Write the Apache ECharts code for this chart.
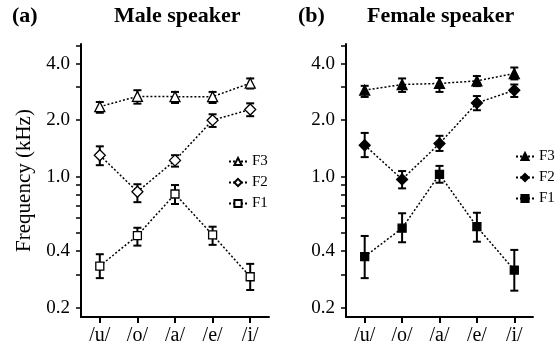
<!DOCTYPE html>
<html>
<head>
<meta charset="utf-8">
<script src="https://cdn.jsdelivr.net/npm/echarts@6/dist/echarts.min.js"></script>
<style>
  html, body { margin: 0; padding: 0; background: #fff; }
  #main { width: 555px; height: 348px; }
</style>
</head>
<body>
<div id="main"></div>
<script>
// vowels on the x axis
const vowels = ['/u/', '/o/', '/a/', '/e/', '/i/'];

// y axis ticks (kHz)
const yLabels = [0.2, 0.4, 1.0, 2.0, 4.0];
const yTicks = [0.2, 0.3, 0.4, 0.5, 0.6, 0.7, 0.8, 0.9, 1.0, 2.0, 3.0, 4.0, 5.0];

// male speaker, mean and error bar ends
const maleF3 = [2.36, 2.68, 2.67, 2.67, 3.15];
const maleF3Low = [2.19, 2.45, 2.47, 2.47, 2.95];
const maleF3High = [2.50, 2.89, 2.83, 2.83, 3.34];
const maleF2 = [1.30, 0.83, 1.22, 2.0, 2.28];
const maleF2Low = [1.15, 0.73, 1.13, 1.84, 2.10];
const maleF2High = [1.45, 0.91, 1.30, 2.15, 2.46];
const maleF1 = [0.333, 0.484, 0.807, 0.488, 0.292];
const maleF1Low = [0.287, 0.428, 0.714, 0.432, 0.248];
const maleF1High = [0.385, 0.533, 0.901, 0.540, 0.342];

// female speaker
const femaleF3 = [2.89, 3.10, 3.14, 3.24, 3.55];
const femaleF3Low = [2.66, 2.83, 2.83, 3.04, 3.30];
const femaleF3High = [3.05, 3.34, 3.36, 3.44, 3.82];
const femaleF2 = [1.47, 0.966, 1.50, 2.47, 2.89];
const femaleF2Low = [1.27, 0.865, 1.37, 2.26, 2.66];
const femaleF2High = [1.71, 1.07, 1.65, 2.69, 3.10];
const femaleF1 = [0.374, 0.53, 1.027, 0.54, 0.317];
const femaleF1Low = [0.287, 0.446, 0.927, 0.449, 0.246];
const femaleF1High = [0.482, 0.637, 1.14, 0.641, 0.406];

const serif = 'Liberation Serif';

function errBars (low, high) {
  return vowels.map((v, i) => [i, low[i], high[i]]);
}

function renderErr (params, api) {
  const x = api.value(0);
  const lo = api.coord([x, api.value(1)]);
  const hi = api.coord([x, api.value(2)]);
  const w = 4;
  const style = { stroke: '#000', lineWidth: 2 };
  return {
    type: 'group',
    children: [
      { type: 'line', shape: { x1: lo[0], y1: lo[1], x2: hi[0], y2: hi[1] }, style: style },
      { type: 'line', shape: { x1: lo[0] - w, y1: lo[1], x2: lo[0] + w, y2: lo[1] }, style: style },
      { type: 'line', shape: { x1: hi[0] - w, y1: hi[1], x2: hi[0] + w, y2: hi[1] }, style: style }
    ]
  };
}

function lineSeries (name, idx, data, symbol, size, filled) {
  return {
    name: name,
    type: 'line',
    xAxisIndex: idx,
    yAxisIndex: idx,
    data: data,
    symbol: symbol,
    symbolSize: size,
    z: 3,
    lineStyle: { color: '#000', width: 1.5, type: [2, 2] },
    itemStyle: { color: filled ? '#000' : '#fff', borderColor: '#000', borderWidth: 1.3 },
    emphasis: { disabled: true }
  };
}

function errSeries (idx, low, high) {
  return {
    type: 'custom',
    xAxisIndex: idx,
    yAxisIndex: idx,
    z: 2,
    silent: true,
    encode: { x: 0, y: [1, 2] },
    renderItem: renderErr,
    data: errBars(low, high)
  };
}

function xAxis (idx) {
  return {
    type: 'category',
    gridIndex: idx,
    data: vowels,
    axisLine: { lineStyle: { color: '#000', width: 2 } },
    axisTick: { show: true, alignWithLabel: true, length: 6, lineStyle: { color: '#000', width: 2 } },
    axisLabel: { color: '#000', fontFamily: serif, fontSize: 20, margin: 9 }
  };
}

function yAxis (idx, name) {
  return {
    type: 'log',
    logBase: 10,
    gridIndex: idx,
    min: 0.178,
    max: 5.1,
    name: name,
    nameLocation: 'middle',
    nameGap: 46,
    nameTextStyle: { color: '#000', fontFamily: serif, fontSize: 21 },
    splitLine: { show: false },
    axisLine: { show: true, lineStyle: { color: '#000', width: 2 } },
    axisTick: { show: true, customValues: yTicks, length: 5, lineStyle: { color: '#000', width: 1.5 } },
    minorTick: { show: false },
    axisLabel: {
      customValues: yLabels,
      color: '#000',
      fontFamily: serif,
      fontSize: 19,
      margin: 11,
      formatter: v => Number(v).toFixed(1)
    }
  };
}

function legend (left, top, names) {
  return {
    orient: 'vertical',
    left: left,
    top: top,
    padding: 0,
    itemGap: 6,
    itemWidth: 18,
    itemHeight: 9,
    data: names,
    formatter: name => name.split(' ')[0],
    textStyle: { color: '#000', fontFamily: serif, fontSize: 15 }
  };
}

const chart = echarts.init(document.getElementById('main'));
chart.setOption({
  animation: false,
  backgroundColor: '#fff',
  title: [
    { text: '(a)', left: 12, top: 5, padding: 0, textStyle: { fontFamily: serif, fontSize: 22, fontWeight: 'bold', color: '#000' } },
    { text: 'Male speaker', left: 114, top: 5, padding: 0, textStyle: { fontFamily: serif, fontSize: 22, fontWeight: 'bold', color: '#000' } },
    { text: '(b)', left: 298, top: 5, padding: 0, textStyle: { fontFamily: serif, fontSize: 22, fontWeight: 'bold', color: '#000' } },
    { text: 'Female speaker', left: 367, top: 5, padding: 0, textStyle: { fontFamily: serif, fontSize: 22, fontWeight: 'bold', color: '#000' } }
  ],
  legend: [
    legend(228, 154, ['F3', 'F2', 'F1']),
    legend(515, 149, ['F3 female', 'F2 female', 'F1 female'])
  ],
  grid: [
    { left: 81, top: 44, width: 188, height: 273 },
    { left: 346, top: 44, width: 187, height: 273 }
  ],
  xAxis: [xAxis(0), xAxis(1)],
  yAxis: [yAxis(0, 'Frequency (kHz)'), yAxis(1, '')],
  series: [
    errSeries(0, maleF3Low, maleF3High),
    errSeries(0, maleF2Low, maleF2High),
    errSeries(0, maleF1Low, maleF1High),
    lineSeries('F3', 0, maleF3, 'triangle', 10, false),
    lineSeries('F2', 0, maleF2, 'diamond', 11, false),
    lineSeries('F1', 0, maleF1, 'rect', 8, false),
    errSeries(1, femaleF3Low, femaleF3High),
    errSeries(1, femaleF2Low, femaleF2High),
    errSeries(1, femaleF1Low, femaleF1High),
    lineSeries('F3 female', 1, femaleF3, 'triangle', 10, true),
    lineSeries('F2 female', 1, femaleF2, 'diamond', 11, true),
    lineSeries('F1 female', 1, femaleF1, 'rect', 8, true)
  ]
});
</script>
</body>
</html>
